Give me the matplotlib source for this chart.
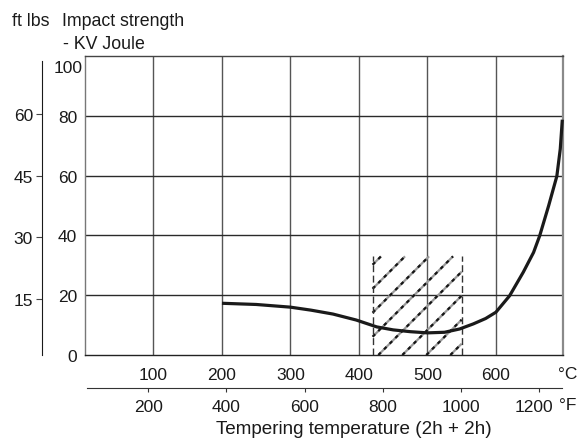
import matplotlib
matplotlib.use('Agg')
import matplotlib.pyplot as plt
import numpy as np
from matplotlib.transforms import ScaledTranslation

plt.rcParams['font.family'] = ['Liberation Sans', 'DejaVu Sans']
FS = 12.5

# ---- data ----
temp_c = [200, 250, 300, 330, 362, 396, 426, 450, 475, 500, 525, 547, 567,
          585, 600, 620, 640, 655, 664, 677, 689, 694, 697]
impact_j = [17.3, 16.9, 16.0, 15.0, 13.7, 11.7, 9.4, 8.4, 7.8, 7.4, 7.6, 8.7,
            10.4, 12.2, 14.3, 19.8, 27.7, 34.3, 39.9, 49.9, 59.8, 68.9, 78.7]
c_ticks = [100, 200, 300, 400, 500, 600]
j_ticks = [0, 20, 40, 60, 80]
j_top_label = 100
ftlb_ticks = [15, 30, 45, 60]
f_ticks = [200, 400, 600, 800, 1000, 1200]
range_c = [420, 550]
range_j_top = 33

W, H = 581, 439
fig = plt.figure(figsize=(W / 100, H / 100), dpi=100)
L, R, T, B = 85, 563, 57, 356
ax = fig.add_axes([L / W, 1 - B / H, (R - L) / W, (B - T) / H])
XMAX = 698
ax.set_xlim(0, XMAX)
ax.set_ylim(0, 100)
ax.set_xticks(c_ticks)
ax.set_yticks(j_ticks)
ax.tick_params(axis='x', length=0, pad=8.6, labelsize=FS, colors='#1a1a1a')
ax.tick_params(axis='y', length=0, pad=5.6, labelsize=FS, colors='#1a1a1a')
for v in c_ticks:
    ax.axvline(v, color='#555555', lw=1.0, zorder=1)
for v in j_ticks[1:]:
    ax.axhline(v, color='#2a2a2a', lw=1.0, zorder=1)
ax.spines['left'].set_color('#777777')
ax.spines['bottom'].set_color('#222222')
ax.spines['top'].set_color('#444444')
ax.spines['right'].set_color('#8a8a8a')
ax.spines['right'].set_linewidth(1.6)
for name, s in ax.spines.items():
    if name != 'right':
        s.set_linewidth(1.0)

ax.annotate(str(j_top_label), xy=(0, 100), xycoords='data', xytext=(-1.5, -8),
            textcoords='offset points', ha='right', va='center', fontsize=FS,
            color='#1a1a1a')

# hatched range: 45-degree lines (in pixels) clipped to the rectangle
pxC = (R - L) / XMAX
pxJ = (B - T) / 100
k = pxC / pxJ
step = 24 / pxC
c0 = range_c[0] - range_j_top / k + step * 0.35
while c0 < range_c[1]:
    cs = max(range_c[0], c0)
    ce = min(range_c[1], c0 + range_j_top / k)
    if ce > cs:
        xs = [cs, ce]
        ys = [k * (cs - c0), k * (ce - c0)]
        ax.plot(xs, ys, color='#9a9a9a', lw=1.6, zorder=2, solid_capstyle='butt')
        ax.plot(xs, ys, color='#151515', lw=1.6, ls=(0, (1.6, 2.0)), zorder=2,
                dash_capstyle='butt')
    c0 += step
ax.vlines(range_c, 0, range_j_top, colors='#333333', lw=1.0,
          linestyles=(0, (5, 2.5)), zorder=2)

# curve
ax.plot(temp_c, impact_j, color='#1a1a1a', lw=2.3, zorder=3,
        solid_capstyle='butt', clip_on=False)

# ft lbs axis
ax2 = fig.add_axes([42 / W, 1 - B / H, 0.0001, (B - T) / H])
ax2.set_ylim(1.4, 74.1)
ax2.set_xticks([])
ax2.set_yticks(ftlb_ticks)
for sname in ['right', 'top', 'bottom']:
    ax2.spines[sname].set_visible(False)
ax2.spines['left'].set_bounds(1.4, 72.9)
ax2.spines['left'].set_color('#1a1a1a')
ax2.tick_params(axis='y', direction='out', length=4.3, width=0.8,
                pad=2.2, labelsize=FS, labelcolor='#1a1a1a', color='#444444')
ax2.patch.set_visible(False)

# deg F axis
FY = 389
ax3 = fig.add_axes([87 / W, 1 - FY / H, (562 - 87) / W, 0.0001])
ax3.set_xlim(43, 1259)
ax3.set_yticks([])
ax3.set_xticks(f_ticks)
for sname in ['left', 'right', 'top']:
    ax3.spines[sname].set_visible(False)
ax3.spines['bottom'].set_color('#333333')
ax3.tick_params(axis='x', direction='out', length=3, width=0.8, color='#333333',
                pad=5.2, labelsize=FS, labelcolor='#1a1a1a')
ax3.patch.set_visible(False)
lab = ax3.get_xticklabels()[-1]
lab.set_transform(lab.get_transform() + ScaledTranslation(-5 / 100, 0, fig.dpi_scale_trans))

# texts
fig.text(568 / W, 1 - 375 / H, '°C', ha='center', va='center', fontsize=FS, color='#1a1a1a')
fig.text(568 / W, 1 - 406 / H, '°F', ha='center', va='center', fontsize=FS, color='#1a1a1a')
fig.text(354 / W, 1 - 434 / H, 'Tempering temperature (2h + 2h)', ha='center',
         va='baseline', fontsize=13.6, color='#1a1a1a')
fig.text(12 / W, 1 - 21 / H, 'ft lbs', ha='left', va='center', fontsize=12.8, color='#1a1a1a')
fig.text(62 / W, 1 - 21 / H, 'Impact strength', ha='left', va='center', fontsize=12.8, color='#1a1a1a')
fig.text(63 / W, 1 - 44.5 / H, '- KV Joule', ha='left', va='center', fontsize=12.8, color='#1a1a1a')

fig.savefig('out.png', dpi=100)
